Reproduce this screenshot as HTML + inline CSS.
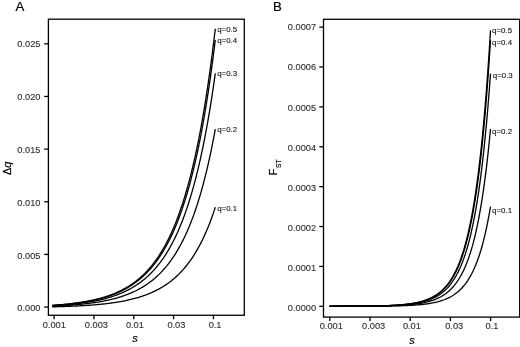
<!DOCTYPE html>
<html lang="en"><head><meta charset="utf-8"><title>Figure</title>
<style>html,body{margin:0;padding:0;background:#fff}svg{display:block}text{font-family:"Liberation Sans",sans-serif}</style></head><body>
<svg width="520" height="347" viewBox="0 0 520 347">
<rect width="520" height="347" fill="#fff"/>
<g fill="none" stroke="#000" stroke-width="1.3">
<path d="M52.30 306.85 L53.32 306.83 L54.34 306.80 L55.36 306.77 L56.38 306.75 L57.39 306.72 L58.41 306.69 L59.43 306.66 L60.45 306.63 L61.47 306.60 L62.49 306.56 L63.51 306.53 L64.52 306.49 L65.54 306.46 L66.56 306.42 L67.58 306.38 L68.60 306.34 L69.62 306.30 L70.64 306.26 L71.66 306.22 L72.67 306.17 L73.69 306.13 L74.71 306.08 L75.73 306.03 L76.75 305.98 L77.77 305.93 L78.79 305.88 L79.81 305.82 L80.82 305.77 L81.84 305.71 L82.86 305.65 L83.88 305.59 L84.90 305.53 L85.92 305.46 L86.94 305.39 L87.96 305.32 L88.97 305.25 L89.99 305.18 L91.01 305.10 L92.03 305.03 L93.05 304.95 L94.07 304.86 L95.09 304.78 L96.11 304.69 L97.12 304.60 L98.14 304.51 L99.16 304.41 L100.18 304.31 L101.20 304.21 L102.22 304.11 L103.24 304.00 L104.26 303.89 L105.28 303.78 L106.29 303.66 L107.31 303.54 L108.33 303.41 L109.35 303.28 L110.37 303.15 L111.39 303.01 L112.41 302.87 L113.42 302.73 L114.44 302.58 L115.46 302.43 L116.48 302.27 L117.50 302.11 L118.52 301.94 L119.54 301.77 L120.56 301.59 L121.58 301.40 L122.59 301.21 L123.61 301.02 L124.63 300.82 L125.65 300.61 L126.67 300.40 L127.69 300.18 L128.71 299.95 L129.72 299.72 L130.74 299.48 L131.76 299.24 L132.78 298.98 L133.80 298.72 L134.82 298.45 L135.84 298.17 L136.86 297.88 L137.88 297.59 L138.89 297.28 L139.91 296.97 L140.93 296.65 L141.95 296.31 L142.97 295.97 L143.99 295.62 L145.01 295.25 L146.02 294.88 L147.04 294.49 L148.06 294.09 L149.08 293.68 L150.10 293.26 L151.12 292.83 L152.14 292.38 L153.16 291.91 L154.18 291.44 L155.19 290.95 L156.21 290.44 L157.23 289.92 L158.25 289.38 L159.27 288.82 L160.29 288.25 L161.31 287.66 L162.32 287.06 L163.34 286.43 L164.36 285.79 L165.38 285.12 L166.40 284.44 L167.42 283.73 L168.44 283.00 L169.46 282.25 L170.47 281.48 L171.49 280.68 L172.51 279.86 L173.53 279.01 L174.55 278.14 L175.57 277.23 L176.59 276.30 L177.61 275.35 L178.62 274.36 L179.64 273.34 L180.66 272.29 L181.68 271.20 L182.70 270.09 L183.72 268.93 L184.74 267.74 L185.76 266.52 L186.77 265.25 L187.79 263.95 L188.81 262.60 L189.83 261.21 L190.85 259.78 L191.87 258.30 L192.89 256.77 L193.91 255.20 L194.93 253.57 L195.94 251.89 L196.96 250.16 L197.98 248.38 L199.00 246.53 L200.02 244.63 L201.04 242.66 L202.06 240.63 L203.07 238.54 L204.09 236.37 L205.11 234.14 L206.13 231.83 L207.15 229.44 L208.17 226.98 L209.19 224.43 L210.21 221.80 L211.23 219.09 L212.24 216.28 L213.26 213.38 L214.28 210.38 L215.30 207.27"/>
<path d="M52.30 306.19 L53.32 306.15 L54.34 306.10 L55.36 306.06 L56.38 306.01 L57.39 305.96 L58.41 305.90 L59.43 305.85 L60.45 305.79 L61.47 305.74 L62.49 305.68 L63.51 305.62 L64.52 305.56 L65.54 305.49 L66.56 305.43 L67.58 305.36 L68.60 305.29 L69.62 305.22 L70.64 305.14 L71.66 305.06 L72.67 304.99 L73.69 304.90 L74.71 304.82 L75.73 304.73 L76.75 304.65 L77.77 304.55 L78.79 304.46 L79.81 304.36 L80.82 304.26 L81.84 304.16 L82.86 304.05 L83.88 303.95 L84.90 303.83 L85.92 303.72 L86.94 303.60 L87.96 303.48 L88.97 303.35 L89.99 303.22 L91.01 303.08 L92.03 302.95 L93.05 302.80 L94.07 302.66 L95.09 302.51 L96.11 302.35 L97.12 302.19 L98.14 302.03 L99.16 301.86 L100.18 301.68 L101.20 301.50 L102.22 301.31 L103.24 301.12 L104.26 300.93 L105.28 300.72 L106.29 300.51 L107.31 300.30 L108.33 300.08 L109.35 299.85 L110.37 299.61 L111.39 299.37 L112.41 299.12 L113.42 298.86 L114.44 298.60 L115.46 298.33 L116.48 298.04 L117.50 297.76 L118.52 297.46 L119.54 297.15 L120.56 296.83 L121.58 296.51 L122.59 296.17 L123.61 295.82 L124.63 295.47 L125.65 295.10 L126.67 294.72 L127.69 294.33 L128.71 293.93 L129.72 293.52 L130.74 293.09 L131.76 292.65 L132.78 292.20 L133.80 291.73 L134.82 291.25 L135.84 290.76 L136.86 290.25 L137.88 289.72 L138.89 289.18 L139.91 288.63 L140.93 288.05 L141.95 287.46 L142.97 286.85 L143.99 286.22 L145.01 285.57 L146.02 284.91 L147.04 284.22 L148.06 283.51 L149.08 282.78 L150.10 282.03 L151.12 281.26 L152.14 280.46 L153.16 279.64 L154.18 278.79 L155.19 277.91 L156.21 277.01 L157.23 276.09 L158.25 275.13 L159.27 274.14 L160.29 273.13 L161.31 272.08 L162.32 271.00 L163.34 269.89 L164.36 268.74 L165.38 267.56 L166.40 266.34 L167.42 265.09 L168.44 263.79 L169.46 262.46 L170.47 261.08 L171.49 259.66 L172.51 258.20 L173.53 256.70 L174.55 255.14 L175.57 253.54 L176.59 251.89 L177.61 250.18 L178.62 248.43 L179.64 246.61 L180.66 244.75 L181.68 242.82 L182.70 240.83 L183.72 238.78 L184.74 236.67 L185.76 234.49 L186.77 232.24 L187.79 229.92 L188.81 227.52 L189.83 225.05 L190.85 222.50 L191.87 219.87 L192.89 217.16 L193.91 214.36 L194.93 211.47 L195.94 208.49 L196.96 205.41 L197.98 202.24 L199.00 198.96 L200.02 195.57 L201.04 192.08 L202.06 188.47 L203.07 184.74 L204.09 180.89 L205.11 176.92 L206.13 172.81 L207.15 168.57 L208.17 164.19 L209.19 159.67 L210.21 155.00 L211.23 150.16 L212.24 145.17 L213.26 140.01 L214.28 134.68 L215.30 129.16"/>
<path d="M52.30 305.72 L53.32 305.67 L54.34 305.60 L55.36 305.54 L56.38 305.48 L57.39 305.41 L58.41 305.34 L59.43 305.27 L60.45 305.20 L61.47 305.12 L62.49 305.05 L63.51 304.97 L64.52 304.89 L65.54 304.80 L66.56 304.71 L67.58 304.63 L68.60 304.53 L69.62 304.44 L70.64 304.34 L71.66 304.24 L72.67 304.14 L73.69 304.03 L74.71 303.92 L75.73 303.81 L76.75 303.69 L77.77 303.57 L78.79 303.45 L79.81 303.32 L80.82 303.19 L81.84 303.05 L82.86 302.92 L83.88 302.77 L84.90 302.63 L85.92 302.47 L86.94 302.32 L87.96 302.16 L88.97 301.99 L89.99 301.82 L91.01 301.64 L92.03 301.46 L93.05 301.27 L94.07 301.08 L95.09 300.88 L96.11 300.68 L97.12 300.47 L98.14 300.25 L99.16 300.03 L100.18 299.80 L101.20 299.56 L102.22 299.32 L103.24 299.07 L104.26 298.81 L105.28 298.54 L106.29 298.27 L107.31 297.99 L108.33 297.70 L109.35 297.40 L110.37 297.09 L111.39 296.77 L112.41 296.44 L113.42 296.10 L114.44 295.75 L115.46 295.40 L116.48 295.03 L117.50 294.65 L118.52 294.26 L119.54 293.85 L120.56 293.44 L121.58 293.01 L122.59 292.57 L123.61 292.11 L124.63 291.65 L125.65 291.16 L126.67 290.67 L127.69 290.16 L128.71 289.63 L129.72 289.08 L130.74 288.53 L131.76 287.95 L132.78 287.36 L133.80 286.74 L134.82 286.11 L135.84 285.46 L136.86 284.80 L137.88 284.11 L138.89 283.40 L139.91 282.66 L140.93 281.91 L141.95 281.13 L142.97 280.33 L143.99 279.51 L145.01 278.66 L146.02 277.79 L147.04 276.88 L148.06 275.95 L149.08 275.00 L150.10 274.01 L151.12 272.99 L152.14 271.94 L153.16 270.87 L154.18 269.75 L155.19 268.61 L156.21 267.42 L157.23 266.21 L158.25 264.95 L159.27 263.66 L160.29 262.32 L161.31 260.95 L162.32 259.53 L163.34 258.07 L164.36 256.57 L165.38 255.02 L166.40 253.42 L167.42 251.77 L168.44 250.07 L169.46 248.32 L170.47 246.52 L171.49 244.65 L172.51 242.73 L173.53 240.76 L174.55 238.72 L175.57 236.61 L176.59 234.44 L177.61 232.21 L178.62 229.90 L179.64 227.52 L180.66 225.07 L181.68 222.54 L182.70 219.93 L183.72 217.24 L184.74 214.47 L185.76 211.61 L186.77 208.65 L187.79 205.61 L188.81 202.47 L189.83 199.23 L190.85 195.88 L191.87 192.43 L192.89 188.87 L193.91 185.19 L194.93 181.40 L195.94 177.49 L196.96 173.45 L197.98 169.28 L199.00 164.97 L200.02 160.53 L201.04 155.94 L202.06 151.21 L203.07 146.32 L204.09 141.27 L205.11 136.05 L206.13 130.66 L207.15 125.10 L208.17 119.35 L209.19 113.41 L210.21 107.27 L211.23 100.93 L212.24 94.38 L213.26 87.61 L214.28 80.61 L215.30 73.37"/>
<path d="M52.30 305.44 L53.32 305.37 L54.34 305.30 L55.36 305.23 L56.38 305.16 L57.39 305.08 L58.41 305.01 L59.43 304.92 L60.45 304.84 L61.47 304.76 L62.49 304.67 L63.51 304.58 L64.52 304.48 L65.54 304.39 L66.56 304.29 L67.58 304.19 L68.60 304.08 L69.62 303.97 L70.64 303.86 L71.66 303.75 L72.67 303.63 L73.69 303.51 L74.71 303.38 L75.73 303.25 L76.75 303.12 L77.77 302.98 L78.79 302.84 L79.81 302.70 L80.82 302.55 L81.84 302.39 L82.86 302.23 L83.88 302.07 L84.90 301.90 L85.92 301.73 L86.94 301.55 L87.96 301.36 L88.97 301.17 L89.99 300.98 L91.01 300.78 L92.03 300.57 L93.05 300.36 L94.07 300.14 L95.09 299.91 L96.11 299.68 L97.12 299.44 L98.14 299.19 L99.16 298.93 L100.18 298.67 L101.20 298.40 L102.22 298.12 L103.24 297.84 L104.26 297.54 L105.28 297.24 L106.29 296.92 L107.31 296.60 L108.33 296.27 L109.35 295.92 L110.37 295.57 L111.39 295.21 L112.41 294.83 L113.42 294.45 L114.44 294.05 L115.46 293.64 L116.48 293.22 L117.50 292.78 L118.52 292.34 L119.54 291.87 L120.56 291.40 L121.58 290.91 L122.59 290.41 L123.61 289.89 L124.63 289.35 L125.65 288.80 L126.67 288.23 L127.69 287.65 L128.71 287.05 L129.72 286.43 L130.74 285.79 L131.76 285.13 L132.78 284.45 L133.80 283.75 L134.82 283.03 L135.84 282.29 L136.86 281.52 L137.88 280.74 L138.89 279.92 L139.91 279.09 L140.93 278.23 L141.95 277.34 L142.97 276.43 L143.99 275.48 L145.01 274.51 L146.02 273.51 L147.04 272.48 L148.06 271.42 L149.08 270.32 L150.10 269.20 L151.12 268.03 L152.14 266.84 L153.16 265.60 L154.18 264.33 L155.19 263.02 L156.21 261.67 L157.23 260.28 L158.25 258.84 L159.27 257.37 L160.29 255.84 L161.31 254.27 L162.32 252.65 L163.34 250.98 L164.36 249.26 L165.38 247.49 L166.40 245.66 L167.42 243.78 L168.44 241.84 L169.46 239.84 L170.47 237.77 L171.49 235.65 L172.51 233.45 L173.53 231.19 L174.55 228.86 L175.57 226.46 L176.59 223.98 L177.61 221.42 L178.62 218.79 L179.64 216.07 L180.66 213.27 L181.68 210.38 L182.70 207.40 L183.72 204.32 L184.74 201.15 L185.76 197.88 L186.77 194.51 L187.79 191.02 L188.81 187.43 L189.83 183.73 L190.85 179.91 L191.87 175.96 L192.89 171.89 L193.91 167.69 L194.93 163.36 L195.94 158.89 L196.96 154.27 L197.98 149.50 L199.00 144.58 L200.02 139.51 L201.04 134.26 L202.06 128.85 L203.07 123.26 L204.09 117.49 L205.11 111.53 L206.13 105.37 L207.15 99.01 L208.17 92.44 L209.19 85.66 L210.21 78.64 L211.23 71.40 L212.24 63.91 L213.26 56.17 L214.28 48.17 L215.30 39.90"/>
<path d="M52.30 305.35 L53.32 305.28 L54.34 305.20 L55.36 305.13 L56.38 305.05 L57.39 304.97 L58.41 304.89 L59.43 304.81 L60.45 304.72 L61.47 304.63 L62.49 304.54 L63.51 304.45 L64.52 304.35 L65.54 304.25 L66.56 304.15 L67.58 304.04 L68.60 303.93 L69.62 303.82 L70.64 303.70 L71.66 303.58 L72.67 303.46 L73.69 303.33 L74.71 303.20 L75.73 303.07 L76.75 302.93 L77.77 302.79 L78.79 302.64 L79.81 302.49 L80.82 302.33 L81.84 302.17 L82.86 302.00 L83.88 301.83 L84.90 301.66 L85.92 301.48 L86.94 301.29 L87.96 301.10 L88.97 300.90 L89.99 300.70 L91.01 300.49 L92.03 300.27 L93.05 300.05 L94.07 299.82 L95.09 299.59 L96.11 299.34 L97.12 299.09 L98.14 298.83 L99.16 298.57 L100.18 298.30 L101.20 298.01 L102.22 297.72 L103.24 297.42 L104.26 297.12 L105.28 296.80 L106.29 296.47 L107.31 296.14 L108.33 295.79 L109.35 295.43 L110.37 295.06 L111.39 294.69 L112.41 294.30 L113.42 293.89 L114.44 293.48 L115.46 293.05 L116.48 292.61 L117.50 292.16 L118.52 291.69 L119.54 291.21 L120.56 290.72 L121.58 290.21 L122.59 289.69 L123.61 289.14 L124.63 288.59 L125.65 288.01 L126.67 287.42 L127.69 286.81 L128.71 286.19 L129.72 285.54 L130.74 284.87 L131.76 284.19 L132.78 283.48 L133.80 282.75 L134.82 282.00 L135.84 281.23 L136.86 280.43 L137.88 279.61 L138.89 278.77 L139.91 277.90 L140.93 277.00 L141.95 276.07 L142.97 275.12 L143.99 274.14 L145.01 273.13 L146.02 272.09 L147.04 271.01 L148.06 269.91 L149.08 268.77 L150.10 267.59 L151.12 266.38 L152.14 265.13 L153.16 263.85 L154.18 262.52 L155.19 261.16 L156.21 259.75 L157.23 258.30 L158.25 256.81 L159.27 255.27 L160.29 253.68 L161.31 252.04 L162.32 250.36 L163.34 248.62 L164.36 246.83 L165.38 244.98 L166.40 243.08 L167.42 241.12 L168.44 239.10 L169.46 237.01 L170.47 234.86 L171.49 232.65 L172.51 230.36 L173.53 228.01 L174.55 225.58 L175.57 223.07 L176.59 220.49 L177.61 217.83 L178.62 215.08 L179.64 212.25 L180.66 209.33 L181.68 206.32 L182.70 203.22 L183.72 200.01 L184.74 196.71 L185.76 193.30 L186.77 189.79 L187.79 186.16 L188.81 182.42 L189.83 178.56 L190.85 174.58 L191.87 170.47 L192.89 166.23 L193.91 161.86 L194.93 157.34 L195.94 152.69 L196.96 147.88 L197.98 142.91 L199.00 137.79 L200.02 132.50 L201.04 127.04 L202.06 121.40 L203.07 115.58 L204.09 109.56 L205.11 103.35 L206.13 96.94 L207.15 90.32 L208.17 83.47 L209.19 76.40 L210.21 69.10 L211.23 61.55 L212.24 53.75 L213.26 45.69 L214.28 37.35 L215.30 28.74"/>
<path d="M329.50 306.29 L330.84 306.29 L332.18 306.29 L333.52 306.29 L334.87 306.29 L336.21 306.29 L337.55 306.29 L338.89 306.28 L340.23 306.28 L341.57 306.28 L342.92 306.28 L344.26 306.28 L345.60 306.28 L346.94 306.28 L348.28 306.27 L349.62 306.27 L350.97 306.27 L352.31 306.27 L353.65 306.26 L354.99 306.26 L356.33 306.26 L357.68 306.25 L359.02 306.25 L360.36 306.25 L361.70 306.24 L363.04 306.24 L364.38 306.23 L365.73 306.23 L367.07 306.22 L368.41 306.22 L369.75 306.21 L371.09 306.20 L372.43 306.19 L373.77 306.19 L375.12 306.18 L376.46 306.17 L377.80 306.16 L379.14 306.15 L380.48 306.13 L381.82 306.12 L383.17 306.11 L384.51 306.09 L385.85 306.07 L387.19 306.05 L388.53 306.03 L389.88 306.01 L391.22 305.99 L392.56 305.97 L393.90 305.94 L395.24 305.91 L396.58 305.88 L397.93 305.85 L399.27 305.81 L400.61 305.77 L401.95 305.73 L403.29 305.68 L404.63 305.63 L405.98 305.58 L407.32 305.52 L408.66 305.46 L410.00 305.39 L411.34 305.32 L412.68 305.24 L414.02 305.15 L415.37 305.06 L416.71 304.96 L418.05 304.86 L419.39 304.74 L420.73 304.61 L422.07 304.48 L423.42 304.33 L424.76 304.17 L426.10 304.00 L427.44 303.82 L428.78 303.62 L430.12 303.40 L431.47 303.17 L432.81 302.92 L434.15 302.64 L435.49 302.35 L436.83 302.03 L438.18 301.69 L439.52 301.31 L440.86 300.91 L442.20 300.48 L443.54 300.01 L444.88 299.50 L446.23 298.95 L447.57 298.35 L448.91 297.71 L450.25 297.01 L451.59 296.25 L452.93 295.44 L454.27 294.56 L455.62 293.60 L456.96 292.57 L458.30 291.45 L459.64 290.24 L460.98 288.93 L462.32 287.51 L463.67 285.98 L465.01 284.32 L466.35 282.52 L467.69 280.57 L469.03 278.46 L470.38 276.17 L471.72 273.69 L473.06 271.01 L474.40 268.10 L475.74 264.95 L477.08 261.53 L478.43 257.82 L479.77 253.80 L481.11 249.45 L482.45 244.72 L483.79 239.59 L485.13 234.03 L486.48 227.99 L487.82 221.43 L489.16 214.31 L490.50 206.58"/>
<path d="M329.50 306.28 L330.84 306.28 L332.18 306.28 L333.52 306.28 L334.87 306.28 L336.21 306.28 L337.55 306.27 L338.89 306.27 L340.23 306.27 L341.57 306.27 L342.92 306.27 L344.26 306.26 L345.60 306.26 L346.94 306.26 L348.28 306.25 L349.62 306.25 L350.97 306.25 L352.31 306.24 L353.65 306.24 L354.99 306.23 L356.33 306.23 L357.68 306.22 L359.02 306.21 L360.36 306.21 L361.70 306.20 L363.04 306.19 L364.38 306.18 L365.73 306.17 L367.07 306.16 L368.41 306.15 L369.75 306.14 L371.09 306.13 L372.43 306.11 L373.77 306.10 L375.12 306.08 L376.46 306.06 L377.80 306.05 L379.14 306.03 L380.48 306.00 L381.82 305.98 L383.17 305.95 L384.51 305.93 L385.85 305.90 L387.19 305.86 L388.53 305.83 L389.88 305.79 L391.22 305.75 L392.56 305.71 L393.90 305.66 L395.24 305.61 L396.58 305.55 L397.93 305.49 L399.27 305.43 L400.61 305.36 L401.95 305.28 L403.29 305.20 L404.63 305.11 L405.98 305.02 L407.32 304.91 L408.66 304.80 L410.00 304.68 L411.34 304.55 L412.68 304.41 L414.02 304.26 L415.37 304.10 L416.71 303.92 L418.05 303.73 L419.39 303.53 L420.73 303.30 L422.07 303.06 L423.42 302.80 L424.76 302.52 L426.10 302.22 L427.44 301.89 L428.78 301.53 L430.12 301.15 L431.47 300.73 L432.81 300.29 L434.15 299.80 L435.49 299.28 L436.83 298.71 L438.18 298.10 L439.52 297.44 L440.86 296.72 L442.20 295.95 L443.54 295.11 L444.88 294.20 L446.23 293.22 L447.57 292.17 L448.91 291.02 L450.25 289.78 L451.59 288.44 L452.93 286.99 L454.27 285.42 L455.62 283.73 L456.96 281.89 L458.30 279.90 L459.64 277.75 L460.98 275.42 L462.32 272.90 L463.67 270.17 L465.01 267.22 L466.35 264.02 L467.69 260.55 L469.03 256.80 L470.38 252.73 L471.72 248.33 L473.06 243.56 L474.40 238.39 L475.74 232.78 L477.08 226.70 L478.43 220.12 L479.77 212.97 L481.11 205.23 L482.45 196.82 L483.79 187.71 L485.13 177.81 L486.48 167.08 L487.82 155.42 L489.16 142.76 L490.50 129.01"/>
<path d="M329.50 306.28 L330.84 306.28 L332.18 306.28 L333.52 306.27 L334.87 306.27 L336.21 306.27 L337.55 306.27 L338.89 306.26 L340.23 306.26 L341.57 306.26 L342.92 306.25 L344.26 306.25 L345.60 306.25 L346.94 306.24 L348.28 306.24 L349.62 306.23 L350.97 306.23 L352.31 306.22 L353.65 306.22 L354.99 306.21 L356.33 306.20 L357.68 306.19 L359.02 306.19 L360.36 306.18 L361.70 306.17 L363.04 306.16 L364.38 306.15 L365.73 306.13 L367.07 306.12 L368.41 306.10 L369.75 306.09 L371.09 306.07 L372.43 306.05 L373.77 306.03 L375.12 306.01 L376.46 305.99 L377.80 305.97 L379.14 305.94 L380.48 305.91 L381.82 305.88 L383.17 305.85 L384.51 305.81 L385.85 305.77 L387.19 305.73 L388.53 305.68 L389.88 305.63 L391.22 305.58 L392.56 305.52 L393.90 305.46 L395.24 305.39 L396.58 305.32 L397.93 305.24 L399.27 305.16 L400.61 305.06 L401.95 304.96 L403.29 304.86 L404.63 304.74 L405.98 304.62 L407.32 304.48 L408.66 304.34 L410.00 304.18 L411.34 304.01 L412.68 303.82 L414.02 303.63 L415.37 303.41 L416.71 303.18 L418.05 302.93 L419.39 302.66 L420.73 302.37 L422.07 302.05 L423.42 301.71 L424.76 301.34 L426.10 300.94 L427.44 300.51 L428.78 300.04 L430.12 299.54 L431.47 299.00 L432.81 298.41 L434.15 297.77 L435.49 297.08 L436.83 296.34 L438.18 295.54 L439.52 294.67 L440.86 293.73 L442.20 292.71 L443.54 291.61 L444.88 290.42 L446.23 289.14 L447.57 287.75 L448.91 286.25 L450.25 284.62 L451.59 282.86 L452.93 280.96 L454.27 278.90 L455.62 276.67 L456.96 274.26 L458.30 271.65 L459.64 268.83 L460.98 265.77 L462.32 262.46 L463.67 258.88 L465.01 255.00 L466.35 250.80 L467.69 246.26 L469.03 241.33 L470.38 235.99 L471.72 230.21 L473.06 223.95 L474.40 217.16 L475.74 209.81 L477.08 201.83 L478.43 193.18 L479.77 183.81 L481.11 173.64 L482.45 162.61 L483.79 150.65 L485.13 137.66 L486.48 123.57 L487.82 108.27 L489.16 91.66 L490.50 73.61"/>
<path d="M329.50 306.28 L330.84 306.27 L332.18 306.27 L333.52 306.27 L334.87 306.27 L336.21 306.26 L337.55 306.26 L338.89 306.26 L340.23 306.26 L341.57 306.25 L342.92 306.25 L344.26 306.24 L345.60 306.24 L346.94 306.23 L348.28 306.23 L349.62 306.22 L350.97 306.22 L352.31 306.21 L353.65 306.20 L354.99 306.20 L356.33 306.19 L357.68 306.18 L359.02 306.17 L360.36 306.16 L361.70 306.15 L363.04 306.14 L364.38 306.12 L365.73 306.11 L367.07 306.09 L368.41 306.08 L369.75 306.06 L371.09 306.04 L372.43 306.02 L373.77 306.00 L375.12 305.97 L376.46 305.95 L377.80 305.92 L379.14 305.89 L380.48 305.85 L381.82 305.82 L383.17 305.78 L384.51 305.74 L385.85 305.69 L387.19 305.65 L388.53 305.59 L389.88 305.54 L391.22 305.48 L392.56 305.41 L393.90 305.34 L395.24 305.26 L396.58 305.18 L397.93 305.09 L399.27 304.99 L400.61 304.89 L401.95 304.77 L403.29 304.65 L404.63 304.52 L405.98 304.38 L407.32 304.22 L408.66 304.06 L410.00 303.88 L411.34 303.68 L412.68 303.47 L414.02 303.24 L415.37 303.00 L416.71 302.73 L418.05 302.45 L419.39 302.14 L420.73 301.80 L422.07 301.44 L423.42 301.05 L424.76 300.63 L426.10 300.17 L427.44 299.68 L428.78 299.15 L430.12 298.57 L431.47 297.95 L432.81 297.28 L434.15 296.55 L435.49 295.77 L436.83 294.92 L438.18 294.00 L439.52 293.00 L440.86 291.93 L442.20 290.77 L443.54 289.51 L444.88 288.16 L446.23 286.69 L447.57 285.10 L448.91 283.38 L450.25 281.52 L451.59 279.51 L452.93 277.34 L454.27 274.98 L455.62 272.44 L456.96 269.68 L458.30 266.70 L459.64 263.47 L460.98 259.98 L462.32 256.20 L463.67 252.11 L465.01 247.68 L466.35 242.88 L467.69 237.68 L469.03 232.05 L470.38 225.95 L471.72 219.34 L473.06 212.19 L474.40 204.43 L475.74 196.02 L477.08 186.91 L478.43 177.03 L479.77 166.31 L481.11 154.69 L482.45 142.09 L483.79 128.41 L485.13 113.57 L486.48 97.46 L487.82 79.98 L489.16 60.99 L490.50 40.37"/>
<path d="M329.50 306.28 L330.84 306.27 L332.18 306.27 L333.52 306.27 L334.87 306.27 L336.21 306.26 L337.55 306.26 L338.89 306.26 L340.23 306.25 L341.57 306.25 L342.92 306.25 L344.26 306.24 L345.60 306.24 L346.94 306.23 L348.28 306.23 L349.62 306.22 L350.97 306.21 L352.31 306.21 L353.65 306.20 L354.99 306.19 L356.33 306.18 L357.68 306.17 L359.02 306.16 L360.36 306.15 L361.70 306.14 L363.04 306.13 L364.38 306.12 L365.73 306.10 L367.07 306.09 L368.41 306.07 L369.75 306.05 L371.09 306.03 L372.43 306.01 L373.77 305.99 L375.12 305.96 L376.46 305.93 L377.80 305.90 L379.14 305.87 L380.48 305.84 L381.82 305.80 L383.17 305.76 L384.51 305.72 L385.85 305.67 L387.19 305.62 L388.53 305.57 L389.88 305.51 L391.22 305.44 L392.56 305.38 L393.90 305.30 L395.24 305.22 L396.58 305.14 L397.93 305.04 L399.27 304.94 L400.61 304.83 L401.95 304.72 L403.29 304.59 L404.63 304.45 L405.98 304.30 L407.32 304.14 L408.66 303.97 L410.00 303.78 L411.34 303.58 L412.68 303.37 L414.02 303.13 L415.37 302.88 L416.71 302.60 L418.05 302.30 L419.39 301.98 L420.73 301.64 L422.07 301.26 L423.42 300.86 L424.76 300.42 L426.10 299.95 L427.44 299.43 L428.78 298.88 L430.12 298.28 L431.47 297.64 L432.81 296.94 L434.15 296.19 L435.49 295.37 L436.83 294.49 L438.18 293.54 L439.52 292.51 L440.86 291.39 L442.20 290.19 L443.54 288.88 L444.88 287.48 L446.23 285.95 L447.57 284.30 L448.91 282.52 L450.25 280.59 L451.59 278.51 L452.93 276.25 L454.27 273.81 L455.62 271.17 L456.96 268.31 L458.30 265.22 L459.64 261.87 L460.98 258.25 L462.32 254.32 L463.67 250.08 L465.01 245.48 L466.35 240.50 L467.69 235.10 L469.03 229.26 L470.38 222.94 L471.72 216.08 L473.06 208.66 L474.40 200.61 L475.74 191.88 L477.08 182.43 L478.43 172.18 L479.77 161.06 L481.11 149.00 L482.45 135.93 L483.79 121.74 L485.13 106.34 L486.48 89.63 L487.82 71.49 L489.16 51.79 L490.50 30.40"/>
</g>
<rect x="48.4" y="19.2" width="195.9" height="296.05" fill="none" stroke="#000" stroke-width="1.3"/>
<rect x="323.5" y="19.3" width="196.20000000000005" height="297.8" fill="none" stroke="#000" stroke-width="1.3"/>
<g stroke="#000" stroke-width="1.3">
<line x1="54.10" y1="315.25" x2="54.10" y2="319.25"/>
<line x1="93.93" y1="315.25" x2="93.93" y2="319.25"/>
<line x1="133.76" y1="315.25" x2="133.76" y2="319.25"/>
<line x1="173.59" y1="315.25" x2="173.59" y2="319.25"/>
<line x1="213.42" y1="315.25" x2="213.42" y2="319.25"/>
<line x1="44.199999999999996" y1="307.10" x2="48.4" y2="307.10"/>
<line x1="44.199999999999996" y1="254.44" x2="48.4" y2="254.44"/>
<line x1="44.199999999999996" y1="201.78" x2="48.4" y2="201.78"/>
<line x1="44.199999999999996" y1="149.12" x2="48.4" y2="149.12"/>
<line x1="44.199999999999996" y1="96.46" x2="48.4" y2="96.46"/>
<line x1="44.199999999999996" y1="43.80" x2="48.4" y2="43.80"/>
<line x1="329.80" y1="317.1" x2="329.80" y2="321.1"/>
<line x1="370.00" y1="317.1" x2="370.00" y2="321.1"/>
<line x1="410.20" y1="317.1" x2="410.20" y2="321.1"/>
<line x1="450.40" y1="317.1" x2="450.40" y2="321.1"/>
<line x1="490.60" y1="317.1" x2="490.60" y2="321.1"/>
<line x1="319.3" y1="306.30" x2="323.5" y2="306.30"/>
<line x1="319.3" y1="266.42" x2="323.5" y2="266.42"/>
<line x1="319.3" y1="226.54" x2="323.5" y2="226.54"/>
<line x1="319.3" y1="186.66" x2="323.5" y2="186.66"/>
<line x1="319.3" y1="146.78" x2="323.5" y2="146.78"/>
<line x1="319.3" y1="106.90" x2="323.5" y2="106.90"/>
<line x1="319.3" y1="67.02" x2="323.5" y2="67.02"/>
<line x1="319.3" y1="27.14" x2="323.5" y2="27.14"/>
</g>
<g font-size="9.25" fill="#303030" stroke="#303030" stroke-width="0.12">
<text x="54.25" y="328.0" text-anchor="middle">0.001</text>
<text x="96.40" y="328.0" text-anchor="middle">0.003</text>
<text x="134.90" y="328.0" text-anchor="middle">0.01</text>
<text x="176.40" y="328.0" text-anchor="middle">0.03</text>
<text x="215.10" y="328.0" text-anchor="middle">0.1</text>
<text x="331.30" y="329.1" text-anchor="middle">0.001</text>
<text x="373.70" y="329.1" text-anchor="middle">0.003</text>
<text x="411.90" y="329.1" text-anchor="middle">0.01</text>
<text x="454.20" y="329.1" text-anchor="middle">0.03</text>
<text x="492.05" y="329.1" text-anchor="middle">0.1</text>
<text x="40.5" y="311.40" text-anchor="end">0.000</text>
<text x="40.5" y="258.50" text-anchor="end">0.005</text>
<text x="40.5" y="205.60" text-anchor="end">0.010</text>
<text x="40.5" y="152.70" text-anchor="end">0.015</text>
<text x="40.5" y="99.80" text-anchor="end">0.020</text>
<text x="40.5" y="46.90" text-anchor="end">0.025</text>
<text x="316.1" y="310.80" text-anchor="end">0.0000</text>
<text x="316.1" y="270.74" text-anchor="end">0.0001</text>
<text x="316.1" y="230.68" text-anchor="end">0.0002</text>
<text x="316.1" y="190.62" text-anchor="end">0.0003</text>
<text x="316.1" y="150.56" text-anchor="end">0.0004</text>
<text x="316.1" y="110.50" text-anchor="end">0.0005</text>
<text x="316.1" y="70.44" text-anchor="end">0.0006</text>
<text x="316.1" y="30.38" text-anchor="end">0.0007</text>
</g>
<g font-size="7.9" fill="#111" stroke="#111" stroke-width="0.1">
<text x="217.2" y="31.5">q=0.5</text>
<text x="217.2" y="43.2">q=0.4</text>
<text x="217.2" y="75.8">q=0.3</text>
<text x="217.2" y="131.6">q=0.2</text>
<text x="217.2" y="210.8">q=0.1</text>
<text x="492.1" y="33.3">q=0.5</text>
<text x="492.1" y="45.3">q=0.4</text>
<text x="492.8" y="77.5">q=0.3</text>
<text x="492.1" y="133.7">q=0.2</text>
<text x="492.1" y="212.6">q=0.1</text>
</g>
<g fill="#000" stroke="#000" stroke-width="0.2">
<text x="15.5" y="11.2" font-size="13.2">A</text>
<text x="272.9" y="11.2" font-size="13.2">B</text>
<text x="134.9" y="342" font-size="11" font-style="italic" text-anchor="middle">s</text>
<text x="412" y="343.5" font-size="11" font-style="italic" text-anchor="middle">s</text>
<text transform="translate(10.8,168.3) rotate(-90)" font-size="11" text-anchor="middle">Δ<tspan font-style="italic">q</tspan></text>
<text transform="translate(276.6,175.6) rotate(-90)" font-size="11">F</text>
<text transform="translate(281.2,168) rotate(-90)" font-size="6.6">ST</text>
</g>
</svg></body></html>
